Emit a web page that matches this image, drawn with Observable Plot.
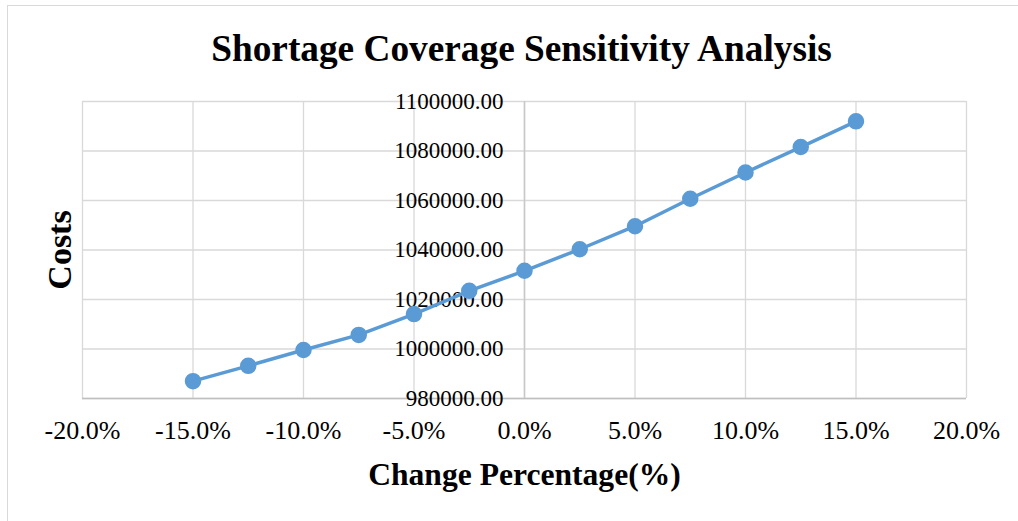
<!DOCTYPE html>
<html>
<head>
<meta charset="utf-8">
<script src="https://cdn.jsdelivr.net/npm/d3@7"></script>
<script src="https://cdn.jsdelivr.net/npm/@observablehq/plot@0.6"></script>
<style>
  html, body { margin: 0; padding: 0; background: #fff; }
  #wrap { position: relative; width: 1018px; height: 521px; overflow: hidden; }
  #border { position: absolute; left: 7px; top: 5px; width: 1030px; height: 540px; border: 1px solid #d9d9d9; box-sizing: border-box; }
  #chart { position: absolute; left: 0; top: 0; }
</style>
</head>
<body>
<div id="wrap"><div id="border"></div><div id="chart"></div></div>
<script>
const changePct = [-15, -12.5, -10, -7.5, -5, -2.5, 0, 2.5, 5, 7.5, 10, 12.5, 15];
const costs = [987000, 993200, 999600, 1005700, 1014100, 1023500, 1031600, 1040300, 1049600, 1060700, 1071300, 1081600, 1092000];
const xTicks = [-20, -15, -10, -5, 0, 5, 10, 15, 20];
const yTicks = [980000, 1000000, 1020000, 1040000, 1060000, 1080000, 1100000];
const titleText = "Shortage Coverage Sensitivity Analysis";
const xTitle = "Change Percentage(%)";
const yTitle = "Costs";

const data = changePct.map((x, i) => ({x, y: costs[i]}));
const serif = "'Liberation Serif', 'Times New Roman', serif";
const blue = "#5b9bd5";

const chart = Plot.plot({
  width: 1018,
  height: 521,
  marginLeft: 82,
  marginRight: 52,
  marginTop: 101,
  marginBottom: 123,
  style: { fontFamily: serif, background: "transparent", color: "#000" },
  x: { domain: [-20, 20] },
  y: { domain: [980000, 1100000] },
  marks: [
    Plot.gridX(xTicks, { stroke: "#d9d9d9", strokeOpacity: 1, strokeWidth: 1.3 }),
    Plot.gridY(yTicks, { stroke: "#d9d9d9", strokeOpacity: 1, strokeWidth: 1.3 }),
    Plot.ruleY([980000], { stroke: "#bfbfbf", strokeWidth: 1.5 }),
    Plot.ruleX([0], { stroke: "#c8c8c8", strokeWidth: 1.5 }),
    Plot.axisX(xTicks, {
      tickSize: 0, tickPadding: 22, fontSize: 26, label: null,
      tickFormat: d => d.toFixed(1) + "%"
    }),
    Plot.axisY({ ticks: [], label: null, tickSize: 0 }),
    Plot.text(yTicks, {
      x: 0, y: d => d, text: d => d.toFixed(2),
      textAnchor: "end", dx: -21, fontSize: 23, fill: "#000"
    }),
    Plot.line(data, { x: "x", y: "y", stroke: blue, strokeWidth: 3.5 }),
    Plot.dot(data, { x: "x", y: "y", r: 7.5, fill: blue, stroke: blue }),
    Plot.text([titleText], {
      frameAnchor: "top", textAnchor: "middle", dy: -67, dx: -3,
      fontSize: 37.3, fontWeight: "bold", fill: "#000"
    }),
    Plot.text([xTitle], {
      frameAnchor: "bottom", textAnchor: "middle", dy: 86,
      fontSize: 31.6, fontWeight: "bold", fill: "#000"
    }),
    Plot.text([yTitle], {
      frameAnchor: "left", textAnchor: "middle", dx: -22, rotate: -90,
      fontSize: 34, fontWeight: "bold", fill: "#000"
    })
  ]
});
document.getElementById("chart").appendChild(chart);
</script>
</body>
</html>
